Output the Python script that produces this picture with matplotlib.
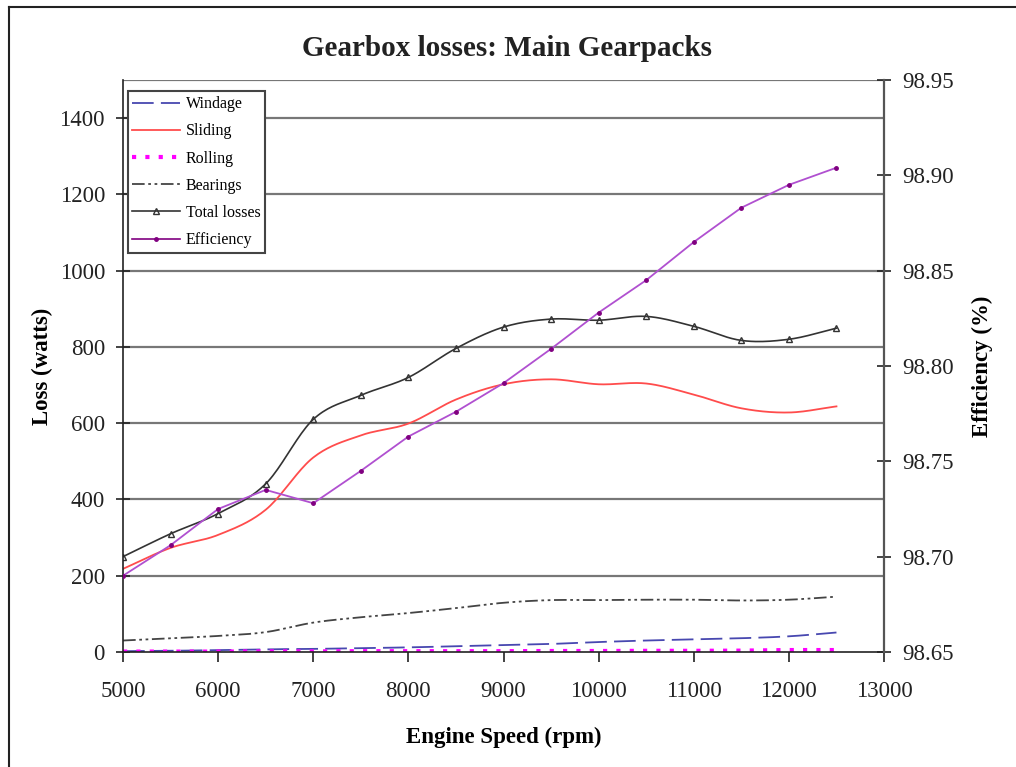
import numpy as np
import matplotlib.pyplot as plt
from matplotlib.lines import Line2D

plt.rcParams['font.family'] = ['Liberation Serif', 'DejaVu Serif']

# data
rpm = [5000, 5500, 6000, 6500, 7000, 7500, 8000, 8500, 9000, 9500,
       10000, 10500, 11000, 11500, 12000, 12500]
windage = [2, 3, 5, 7, 8, 10, 12, 15, 18, 21, 26, 30, 33, 36, 41, 51]
sliding = [218, 273, 307, 373, 510, 568, 599, 662, 702, 715,
           702, 704, 675, 639, 628, 644]
rolling = [1, 1, 1, 1.5, 1.5, 2, 2, 2, 2, 2.5, 2.5, 3, 3, 3.5, 5, 5]
bearings = [30, 36, 42, 52, 77, 91, 102, 115, 129, 136,
            136, 137, 137, 135, 137, 145]
total = [250, 310, 363, 441, 610, 673, 720, 796, 852, 873,
         870, 880, 854, 817, 820, 849]
efficiency = [98.690, 98.706, 98.725, 98.735, 98.728, 98.745, 98.763, 98.776,
              98.791, 98.809, 98.828, 98.845, 98.865, 98.883, 98.895, 98.904]


def smooth(x, y, n=20):
    # catmull-rom through the points, like excel's smoothed lines
    x = np.asarray(x, float)
    y = np.asarray(y, float)
    px = np.concatenate([[2 * x[0] - x[1]], x, [2 * x[-1] - x[-2]]])
    py = np.concatenate([[2 * y[0] - y[1]], y, [2 * y[-1] - y[-2]]])
    xs, ys = [], []
    t = np.linspace(0, 1, n, endpoint=False)
    for i in range(1, len(px) - 2):
        for p, out in ((px, xs), (py, ys)):
            p0, p1, p2, p3 = p[i - 1], p[i], p[i + 1], p[i + 2]
            out.extend(0.5 * (2 * p1 + (-p0 + p2) * t
                              + (2 * p0 - 5 * p1 + 4 * p2 - p3) * t ** 2
                              + (-p0 + 3 * p1 - 3 * p2 + p3) * t ** 3))
    xs.append(x[-1])
    ys.append(y[-1])
    return xs, ys


fig = plt.figure(figsize=(10.16, 7.67), dpi=100)
ax = fig.add_axes([0.1211, 0.15, 0.7490, 0.7457])
ax2 = ax.twinx()

# outer frame (left and top edges)
fig.add_artist(Line2D([0.009, 0.009], [0, 0.991], color='#222222', lw=1.5))
fig.add_artist(Line2D([0.009, 1.0], [0.991, 0.991], color='#222222', lw=1.5))

win_c = '#4848b0'
sli_c = '#ff4c4c'
rol_c = '#ff00ff'
bea_c = '#444444'
tot_c = '#333333'
eff_c = '#b050d0'

ax.plot(*smooth(rpm, windage), color=win_c, lw=1.3, dashes=(12, 4))
ax.plot(*smooth(rpm, sliding), color=sli_c, lw=1.3)
ax.plot(rpm, rolling, color=rol_c, lw=3, linestyle=(0, (1, 2.2)))
ax.plot(*smooth(rpm, bearings), color=bea_c, lw=1.3,
        dashes=(7, 2, 1.5, 2, 1.5, 2))
ax.plot(*smooth(rpm, total), color=tot_c, lw=1.2)
ax.plot(rpm, total, color=tot_c, lw=0, marker='^', markersize=5,
        markerfacecolor='none', markeredgecolor=tot_c)
ax2.plot(rpm, efficiency, color=eff_c, lw=1.3, marker='o', markersize=2.5,
         markerfacecolor='#800080', markeredgecolor='#800080')

ax.set_xlim(5000, 13000)
ax.set_ylim(0, 1500)
ax2.set_ylim(98.65, 98.95)
ax.set_xticks(range(5000, 13001, 1000))
ax.set_yticks(range(0, 1401, 200))
ax2.set_yticks(np.arange(98.65, 98.951, 0.05))
ax2.set_yticklabels(['%.2f' % v for v in np.arange(98.65, 98.951, 0.05)])

for yv in range(200, 1401, 200):
    ax.axhline(yv, color='#777777', lw=1.6, zorder=0)
ax.axhline(1500, color='#777777', lw=1.6, zorder=0)

for a in (ax, ax2):
    for s in a.spines.values():
        s.set_visible(False)
ax.spines['left'].set_visible(True)
ax.spines['bottom'].set_visible(True)
ax2.spines['right'].set_visible(True)
ax.spines['left'].set_color('#222222')
ax.spines['bottom'].set_color('#222222')
ax2.spines['right'].set_color('#555555')
ax.spines['left'].set_linewidth(1.2)
ax.spines['bottom'].set_linewidth(1.2)
ax2.spines['right'].set_linewidth(1.6)

ax.tick_params(axis='y', direction='inout', length=10, width=1.2,
               labelsize=16.5, pad=8, colors='#222222')
ax.tick_params(axis='x', direction='out', length=7, width=1.2,
               labelsize=16.5, pad=14, colors='#222222')
ax2.tick_params(axis='y', direction='inout', length=10, width=1.2,
                labelsize=16.5, pad=8, colors='#222222')

ax.set_xlabel('Engine Speed (rpm)', fontsize=16.5, fontweight='bold', labelpad=18)
ax.set_ylabel('Loss (watts)', fontsize=16.5, fontweight='bold', labelpad=5)
ax2.set_ylabel('Efficiency (%)', fontsize=16.5, fontweight='bold', labelpad=13)
fig.text(0.499, 0.937, 'Gearbox losses: Main Gearpacks', ha='center',
         va='center', fontsize=21, fontweight='bold', color='#222222')

handles = [
    Line2D([], [], color=win_c, lw=1.3, dashes=(12, 4)),
    Line2D([], [], color=sli_c, lw=1.3),
    Line2D([], [], color=rol_c, lw=3, linestyle=(0, (1, 2.2))),
    Line2D([], [], color=bea_c, lw=1.3, dashes=(7, 2, 1.5, 2, 1.5, 2)),
    Line2D([], [], color=tot_c, lw=1.2, marker='^', markersize=4,
           markerfacecolor='none'),
    Line2D([], [], color='#800080', lw=1.2, marker='o', markersize=2.5),
]
labels = ['Windage', 'Sliding', 'Rolling', 'Bearings', 'Total losses', 'Efficiency']
leg = ax2.legend(handles, labels, loc='upper left', bbox_to_anchor=(0.006, 0.98),
                 fontsize=11.5, frameon=True, fancybox=False, framealpha=1,
                 edgecolor='#444444', handlelength=3.0, handletextpad=0.35,
                 labelspacing=0.7, borderpad=0.3, borderaxespad=0)
leg.get_frame().set_linewidth(1.5)

fig.savefig('out.png', dpi=100)
